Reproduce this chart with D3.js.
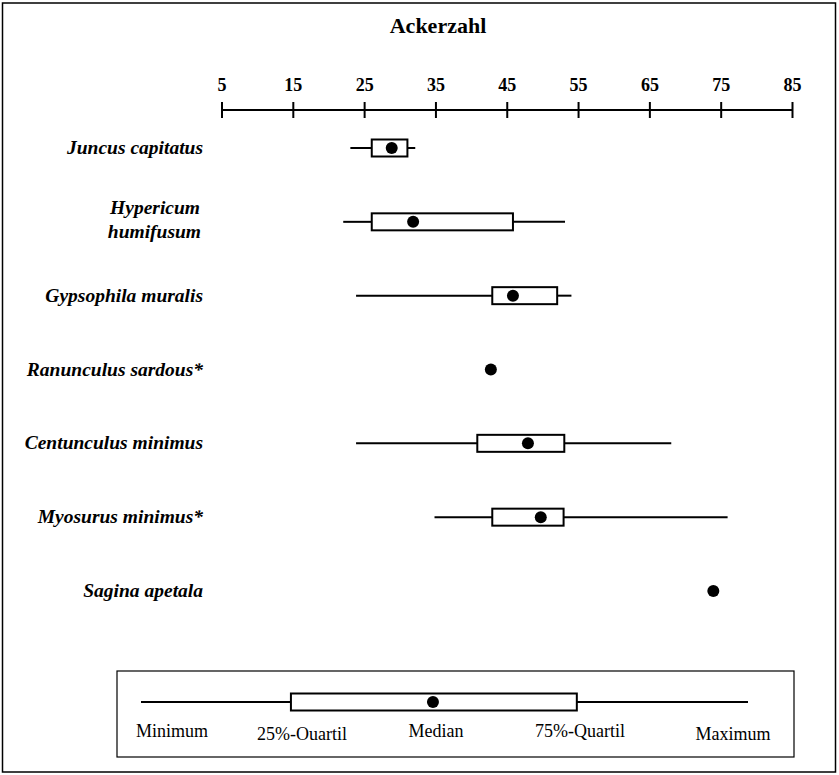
<!DOCTYPE html>
<html>
<head>
<meta charset="utf-8">
<script src="https://cdn.jsdelivr.net/npm/d3@7"></script>
<style>
  body { margin: 0; background: #fff; }
  svg { display: block; }
</style>
</head>
<body>
<svg id="chart"></svg>
<script>
// species (rows) and their box plot statistics for "Ackerzahl"
var species = ["Juncus capitatus", "Hypericum humifusum", "Gypsophila muralis",
  "Ranunculus sardous*", "Centunculus minimus", "Myosurus minimus*", "Sagina apetala"];
var minVals = [23.0, 22.0, 23.8, null, 23.8, 34.8, null];
var q1Vals  = [26.0, 26.0, 42.9, null, 40.8, 42.9, null];
var medVals = [28.8, 31.8, 45.8, 42.7, 47.9, 49.7, 73.9];
var q3Vals  = [31.0, 45.8, 52.0, null, 53.0, 52.9, null];
var maxVals = [32.1, 53.1, 54.0, null, 68.0, 75.9, null];
var tickValues = [5, 15, 25, 35, 45, 55, 65, 75, 85];

// legend (schematic box, percent of its width)
var legendLabels = ["Minimum", "25%-Ouartil", "Median", "75%-Quartil", "Maximum"];
var legendVals = [0, 24.7, 48.1, 71.8, 100];

var dimensions = { width: 839, height: 775 };
var font = "'Liberation Serif', 'Times New Roman', serif";

var svg = d3.select("#chart")
  .attr("width", dimensions.width)
  .attr("height", dimensions.height);

// outer frame
svg.append("rect")
  .attr("x", 2.5).attr("y", 3)
  .attr("width", 833).attr("height", 769)
  .attr("fill", "none")
  .attr("stroke", "black")
  .attr("stroke-width", 1.5);

svg.append("text")
  .text("Ackerzahl")
  .attr("x", 438).attr("y", 33)
  .attr("text-anchor", "middle")
  .style("font-family", font)
  .style("font-weight", "bold")
  .style("font-size", "22px");

var x = d3.scaleLinear().domain([5, 85]).range([222, 792.5]);
var y = d3.scalePoint().domain(species).range([148, 591]);

// axis on top
var axis = d3.axisTop(x).tickValues(tickValues).tickSize(0).tickPadding(0);
var gAxis = svg.append("g").attr("transform", "translate(0,110)").call(axis);
gAxis.select(".domain").remove();
gAxis.selectAll("text").remove();

gAxis.append("line")
  .attr("x1", x(5)).attr("x2", x(85))
  .attr("stroke", "black").attr("stroke-width", 2);

gAxis.selectAll(".tk")
  .data(tickValues)
  .join("line")
  .attr("class", "tk")
  .attr("x1", d => x(d)).attr("x2", d => x(d))
  .attr("y1", -8).attr("y2", 8)
  .attr("stroke", "black").attr("stroke-width", 2);

gAxis.selectAll(".tl")
  .data(tickValues)
  .join("text")
  .attr("class", "tl")
  .attr("x", d => x(d))
  .attr("y", -19)
  .attr("text-anchor", "middle")
  .attr("fill", "black")
  .style("font-family", font)
  .style("font-weight", "bold")
  .style("font-size", "18px")
  .text(d => d);

// species labels
species.forEach(function(s) {
  var t = svg.append("text")
    .attr("x", 203)
    .attr("text-anchor", "end")
    .style("font-family", font)
    .style("font-weight", "bold")
    .style("font-style", "italic")
    .style("font-size", "19.5px");
  if (s == "Hypericum humifusum") {
    t.append("tspan").attr("x", 200).attr("y", y(s) - 8).text("Hypericum");
    t.append("tspan").attr("x", 201).attr("y", y(s) + 16).text("humifusum");
  } else {
    t.attr("y", y(s) + 6).text(s);
  }
});

var boxH = 17;

function drawBox(g, xs, cy, vMin, vQ1, vMed, vQ3, vMax, r) {
  if (vMin != null) {
    g.append("line")
      .attr("x1", xs(vMin)).attr("x2", xs(vQ1))
      .attr("y1", cy).attr("y2", cy)
      .attr("stroke", "black").attr("stroke-width", 2);
    g.append("line")
      .attr("x1", xs(vQ3)).attr("x2", xs(vMax))
      .attr("y1", cy).attr("y2", cy)
      .attr("stroke", "black").attr("stroke-width", 2);
    g.append("rect")
      .attr("x", xs(vQ1)).attr("y", cy - boxH / 2)
      .attr("width", xs(vQ3) - xs(vQ1)).attr("height", boxH)
      .attr("fill", "white")
      .attr("stroke", "black").attr("stroke-width", 2);
  }
  g.append("circle")
    .attr("cx", xs(vMed)).attr("cy", cy)
    .attr("r", r)
    .attr("fill", "black");
}

var gBoxes = svg.append("g");
species.forEach(function(s, i) {
  drawBox(gBoxes, x, y(s), minVals[i], q1Vals[i], medVals[i], q3Vals[i], maxVals[i], 6);
});

// legend
var legendBox = { x: 117, y: 671, w: 677, h: 86 };
svg.append("rect")
  .attr("x", legendBox.x).attr("y", legendBox.y)
  .attr("width", legendBox.w).attr("height", legendBox.h)
  .attr("fill", "none")
  .attr("stroke", "black").attr("stroke-width", 1.2);

var lx = d3.scaleLinear().domain([0, 100]).range([141, 748]);
drawBox(svg.append("g"), lx, 702, legendVals[0], legendVals[1], legendVals[2], legendVals[3], legendVals[4], 6);

var labelX = [172, 302, 436, 580, 733];
var labelY = [737, 740, 737, 737, 740];
svg.selectAll(".leg")
  .data(legendLabels)
  .join("text")
  .attr("class", "leg")
  .attr("x", (d, i) => labelX[i])
  .attr("y", (d, i) => labelY[i])
  .attr("text-anchor", "middle")
  .style("font-family", font)
  .style("font-size", "18px")
  .text(d => d);
</script>
</body>
</html>
